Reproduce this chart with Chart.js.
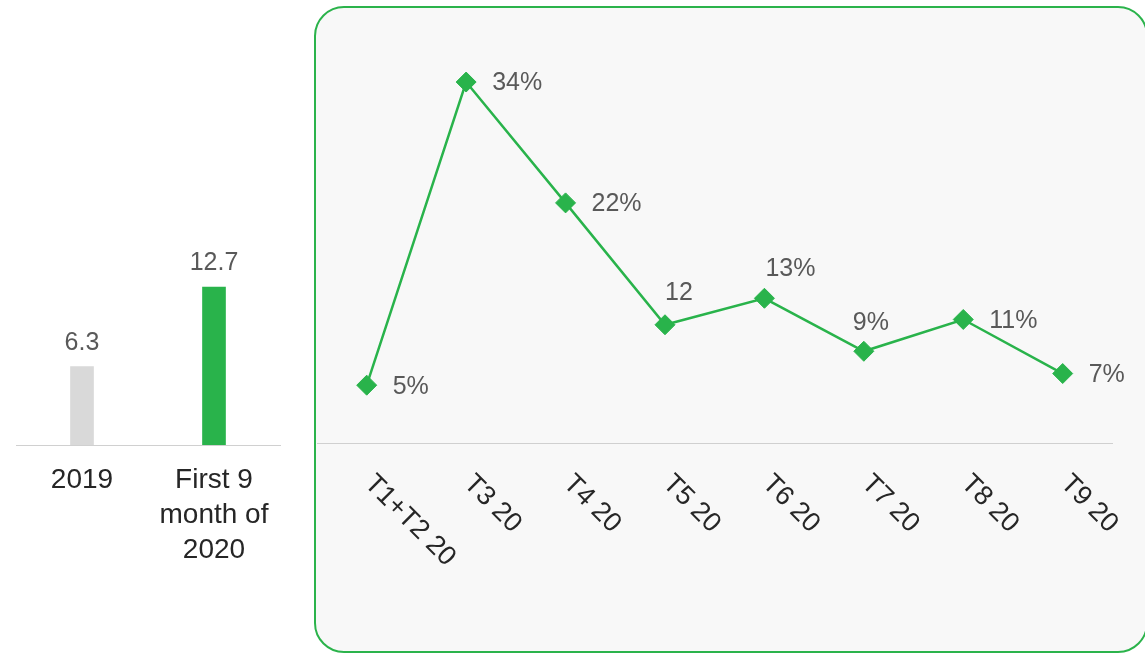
<!DOCTYPE html>
<html>
<head>
<meta charset="utf-8">
<script src="https://cdn.jsdelivr.net/npm/chart.js@4/dist/chart.umd.min.js"></script>
<style>
  html, body { margin: 0; padding: 0; background: #ffffff; overflow: hidden; }
  body { width: 1145px; height: 654px; position: relative; }
  #box { position: absolute; left: 314px; top: 6px; width: 834px; height: 647px;
         box-sizing: border-box; border: 2px solid #2bb34b; border-radius: 30px; background: #f8f8f8; }
  #barWrap { position: absolute; left: 0; top: 0; width: 300px; height: 654px; }
  #lineWrap { position: absolute; left: 0; top: 0; width: 1145px; height: 654px; }
</style>
</head>
<body>
<div id="box"></div>
<div id="barWrap"><canvas id="bar"></canvas></div>
<div id="lineWrap"><canvas id="line"></canvas></div>
<script>
// ---- data ----
const barCategories = [['2019'], ['First 9', 'month of', '2020']];
const barValues = [6.3, 12.7];
const barLabels = ['6.3', '12.7'];

const lineCategories = ['T1+T2 20', 'T3 20', 'T4 20', 'T5 20', 'T6 20', 'T7 20', 'T8 20', 'T9 20'];
const lineValues = [5.5, 34.1, 22.7, 11.2, 13.7, 8.7, 11.7, 6.6];
const lineLabels = ['5%', '34%', '22%', '12', '13%', '9%', '11%', '7%'];

const GREEN = '#29b34b';
const FONT = '"Liberation Sans", Arial, sans-serif';

// ---- bar chart ----
const barLabelPlugin = {
  id: 'barLabels',
  afterDatasetsDraw(chart) {
    const ctx = chart.ctx;
    const meta = chart.getDatasetMeta(0);
    ctx.save();
    ctx.font = '25px ' + FONT;
    ctx.fillStyle = '#595959';
    ctx.textAlign = 'center';
    ctx.textBaseline = 'middle';
    meta.data.forEach((bar, i) => {
      ctx.fillText(barLabels[i], bar.x, bar.y - 24);
    });
    ctx.restore();
  }
};

new Chart(document.getElementById('bar'), {
  type: 'bar',
  data: {
    labels: barCategories,
    datasets: [{
      data: barValues,
      backgroundColor: ['#d9d9d9', GREEN],
      barThickness: 23
    }]
  },
  options: {
    responsive: true,
    maintainAspectRatio: false,
    animation: false,
    layout: { padding: { left: 16, right: 20, top: 258.5, bottom: 0 } },
    plugins: { legend: { display: false }, tooltip: { enabled: false } },
    scales: {
      x: {
        grid: { display: false, drawTicks: false },
        border: { display: true, color: '#d0d0d0', width: 1 },
        ticks: { color: '#262626', font: { size: 28, family: FONT, lineHeight: 1.25 }, padding: 18, maxRotation: 0, autoSkip: false },
        afterFit: (s) => { s.height = 209; }
      },
      y: { display: false, min: 0, max: 15 }
    }
  },
  plugins: [barLabelPlugin]
});

// ---- line chart ----
const lineLabelPlugin = {
  id: 'lineLabels',
  afterDatasetsDraw(chart, args, opts) {
    const ctx = chart.ctx;
    const meta = chart.getDatasetMeta(0);
    ctx.save();
    ctx.font = '25px ' + FONT;
    ctx.fillStyle = '#595959';
    ctx.textAlign = 'left';
    ctx.textBaseline = 'middle';
    meta.data.forEach((pt, i) => {
      const o = opts.offsets[i];
      ctx.fillText(lineLabels[i], pt.x + o[0], pt.y + o[1]);
    });
    const xs = chart.scales.x;
    ctx.font = '27px ' + FONT;
    ctx.fillStyle = '#262626';
    lineCategories.forEach((c, i) => {
      const x = xs.getPixelForTick(i);
      ctx.save();
      ctx.translate(x + 2, xs.top + 36);
      ctx.rotate(Math.PI / 4);
      ctx.fillText(c, 0, 0);
      ctx.restore();
    });
    ctx.restore();
  }
};

new Chart(document.getElementById('line'), {
  type: 'line',
  data: {
    labels: lineCategories,
    datasets: [{
      data: lineValues,
      borderColor: GREEN,
      borderWidth: 2.5,
      pointStyle: 'rectRot',
      pointRadius: 10,
      pointBackgroundColor: GREEN,
      pointBorderColor: GREEN,
      pointBorderWidth: 1,
      tension: 0,
      fill: false
    }]
  },
  options: {
    responsive: true,
    maintainAspectRatio: false,
    animation: false,
    layout: { padding: { left: 317, right: 32.6, top: 19.5, bottom: 0 } },
    plugins: {
      legend: { display: false },
      tooltip: { enabled: false },
      lineLabels: {
        offsets: [[26, 1.5], [26, 1.5], [26, 1.5], [0, -32], [1, -29], [-11, -28], [26, 1.5], [26, 1.5]]
      }
    },
    scales: {
      x: {
        offset: true,
        grid: { display: false, drawTicks: false },
        border: { display: true, color: '#d0d0d0', width: 1 },
        ticks: { display: false },
        afterFit: (s) => { s.height = 210.5; }
      },
      y: { display: false, min: 0, max: 40 }
    }
  },
  plugins: [lineLabelPlugin]
});
</script>
</body>
</html>
